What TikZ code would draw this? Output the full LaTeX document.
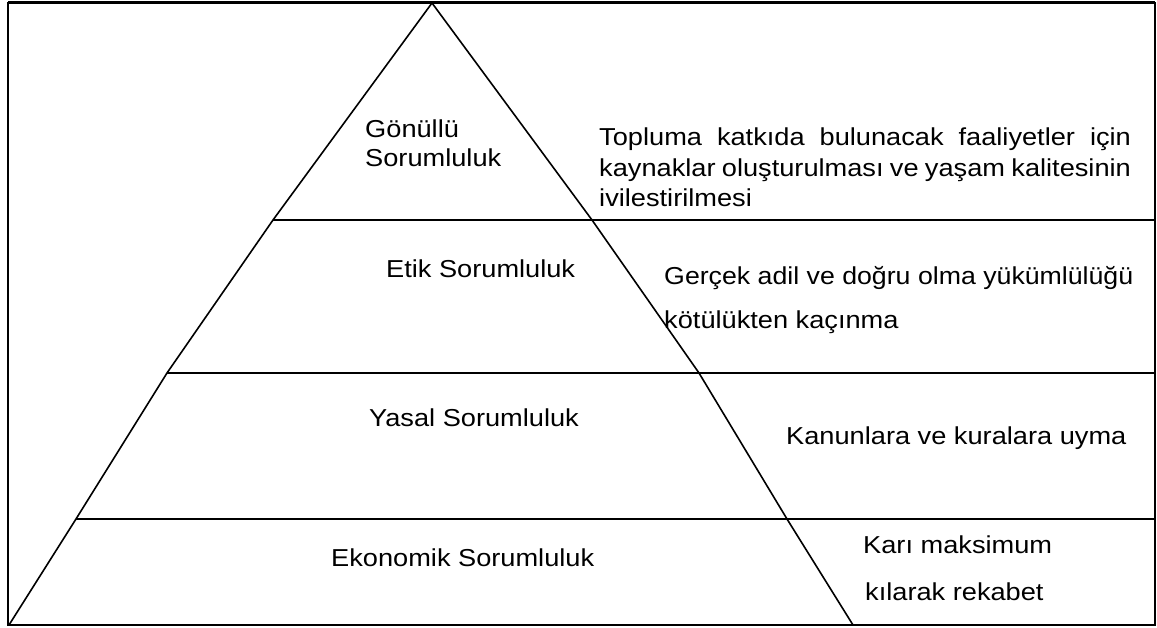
\documentclass[tikz,border=0pt]{standalone}
\usepackage{fontspec}
\setmainfont{Liberation Sans}
\begin{document}
\begin{tikzpicture}[x=1pt,y=-1pt,
  txt/.style={anchor=base west, inner sep=0pt, xscale=1.11, font=\fontsize{24.5}{29}\selectfont},
  edge/.style={line width=1.6pt, line join=miter},
  frame/.style={line width=1.6pt}]
\useasboundingbox (0,0) rectangle (1157,628);
% frame corners
\coordinate (TL) at (8,3);
\coordinate (TR) at (1155,3);
\coordinate (BR) at (1155,625);
% pyramid outline points
\coordinate (A) at (432,3);
\coordinate (L3) at (273,220);
\coordinate (L2) at (167,373);
\coordinate (L1) at (76,519);
\coordinate (L0) at (9,625);
\coordinate (R3) at (592,220);
\coordinate (R2) at (699,373);
\coordinate (R1) at (787,519);
\coordinate (R0) at (853,625);
\coordinate (E3) at (1155,220);
\coordinate (E2) at (1155,373);
\coordinate (E1) at (1155,519);
% frame
\draw[frame] (TL) rectangle (BR);
\draw[line width=3pt] (TL) -- (TR);
% pyramid
\draw[edge] (L0) -- (L1) -- (L2) -- (L3) -- (A) -- (R3) -- (R2) -- (R1) -- (R0);
\draw[edge] (L3) -- (E3);
\draw[edge] (L2) -- (E2);
\draw[edge] (L1) -- (E1);
% left labels
\node[txt] (g1) at (365,138) {Gönüllü};
\node[txt] (g2) at (365,167) {Sorumluluk};
\node[txt] (et) at (386,278) {Etik Sorumluluk};
\node[txt] (ya) at (369,426) {Yasal Sorumluluk};
\node[txt] (ek) at (331,566) {Ekonomik Sorumluluk};
% right texts
\node[txt] (t1) at (599,146) {\hbox to 479pt{Topluma\hfill katkıda\hfill bulunacak\hfill faaliyetler\hfill için}};
\node[txt] (t2) at (599,177) {\hbox to 479pt{kaynaklar\hfill oluşturulması\hfill ve\hfill yaşam\hfill kalitesinin}};
\node[txt] (t3) at (599,207) {ivilestirilmesi};
\node[txt, xscale=0.982] (e1) at (664,285) {Gerçek adil ve doğru olma yükümlülüğü};
\node[txt] (e2) at (664,329) {kötülükten kaçınma};
\node[txt] (y1) at (786,444) {Kanunlara ve kuralara uyma};
\node[txt] (k1) at (863,553) {Karı maksimum};
\node[txt] (k2) at (865,600) {kılarak rekabet};
\end{tikzpicture}
\end{document}
